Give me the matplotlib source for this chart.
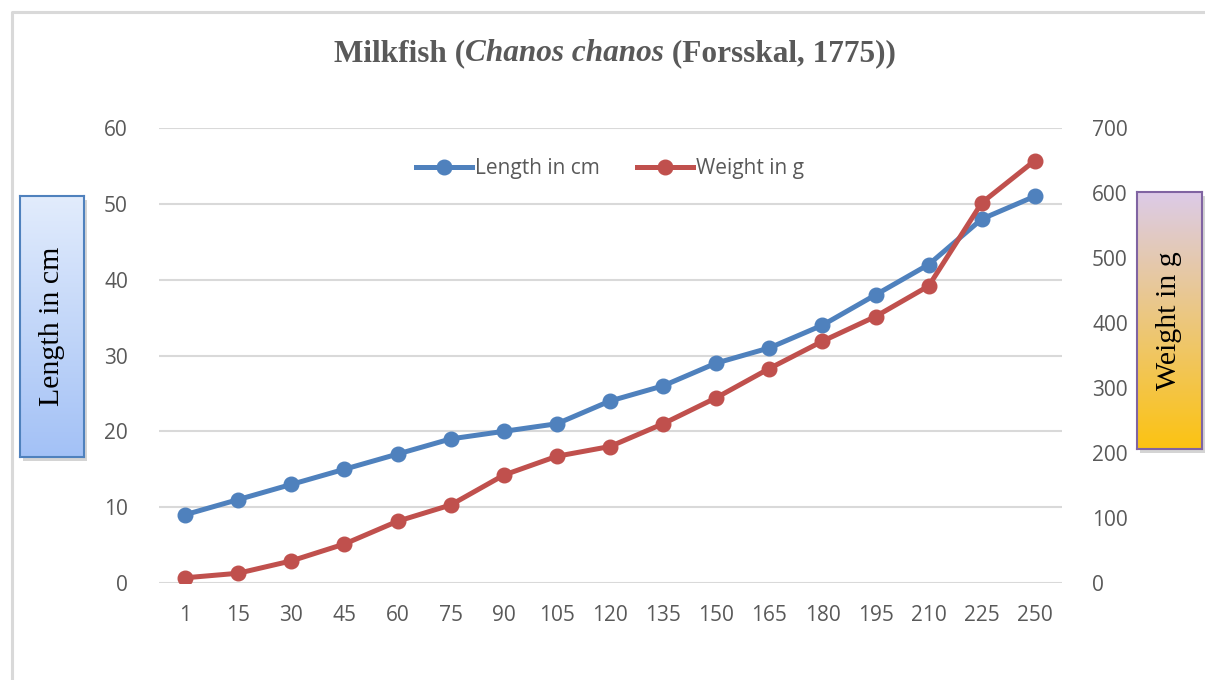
import numpy as np
import matplotlib
matplotlib.use("Agg")
from matplotlib import pyplot as plt
from matplotlib.lines import Line2D

days = ["1", "15", "30", "45", "60", "75", "90", "105", "120", "135",
        "150", "165", "180", "195", "210", "225", "250"]
length_cm = [9, 11, 13, 15, 17, 19, 20, 21, 24, 26, 29, 31, 34, 38, 42, 48, 51]
weight_g = [8, 15, 34, 60, 95, 120, 166, 195, 210, 245, 285, 330, 372, 410, 457, 585, 650]

blue = "#4f81bd"
red = "#c0504d"
grey = "#595959"
tick_font = "Open Sans"

fig = plt.figure(figsize=(12.05, 6.8), dpi=100)
W, H = 1205, 680

# outer chart border (top and left edges only show)
fig.lines.append(Line2D([12 / W, 12 / W, 1.0], [0.0, 1 - 12 / H, 1 - 12 / H], transform=fig.transFigure,
                        color="#d9d9d9", linewidth=2.2))

ax = fig.add_axes([158.5 / W, 1 - 583 / H, (1061.5 - 158.5) / W, (583 - 128) / H])
ax2 = ax.twinx()

x = np.arange(len(days))
l1, = ax.plot(x, length_cm, color=blue, lw=3.6, marker="o", ms=10.5, label="Length in cm", zorder=3)
l2, = ax2.plot(x, weight_g, color=red, lw=3.6, marker="o", ms=10.5, label="Weight in g", zorder=3)

ax.set_xlim(-0.5, len(days) - 0.5)
ax.set_ylim(0, 60)
ax.set_yticks(range(0, 61, 10))
ax2.set_ylim(0, 700)
ax2.set_yticks(range(0, 701, 100))
ax.set_xticks(x)
ax.set_xticklabels(days)

ax.grid(axis="y", color="#d9d9d9", linewidth=1.5)
ax.set_axisbelow(True)
for a in (ax, ax2):
    for s in a.spines.values():
        s.set_visible(False)
    a.tick_params(length=0, labelsize=15, labelcolor=grey)
    for t in a.get_xticklabels() + a.get_yticklabels():
        t.set_fontfamily(tick_font)
ax.tick_params(axis="y", pad=22)
ax2.tick_params(axis="y", pad=22)
ax.tick_params(axis="x", pad=16)

leg = ax.legend(handles=[l1, l2], loc="upper center", bbox_to_anchor=(0.5, 0.975), ncol=2,
                frameon=False, handlelength=2.7, columnspacing=1.8, handletextpad=0.15,
                prop={"family": tick_font, "size": 15})
for t in leg.get_texts():
    t.set_color(grey)

# title: bold with italic species name, centred as one line
title_kw = dict(fontsize=22.5, fontweight="bold", family="Liberation Serif", color=grey, va="baseline")
parts = [fig.text(0, 0, "Milkfish (", **title_kw),
         fig.text(0, 0, "Chanos chanos", style="italic", **title_kw),
         fig.text(0, 0, " (Forsskal, 1775))", **title_kw)]
fig.canvas.draw()
r = fig.canvas.get_renderer()
widths = [p.get_window_extent(r).width for p in parts]
xpos = 615 - sum(widths) / 2
for p, w in zip(parts, widths):
    p.set_position((xpos / W, 1 - 61 / H))
    xpos += w


def label_box(x0, y0, x1, y1, top, bottom, edge, text):
    rect = [x0 / W, 1 - y1 / H, (x1 - x0) / W, (y1 - y0) / H]
    sh = fig.add_axes([rect[0] + 3 / W, rect[1] - 4 / H, rect[2], rect[3]])
    sh.set_facecolor("#b8b8b8")
    sh.set_xticks([])
    sh.set_yticks([])
    for s in sh.spines.values():
        s.set_visible(False)
    sh.patch.set_alpha(0.6)
    bx = fig.add_axes(rect)
    c0 = np.array(matplotlib.colors.to_rgb(top))
    c1 = np.array(matplotlib.colors.to_rgb(bottom))
    f = np.linspace(0, 1, 256)[:, None]
    grad = (c0 * (1 - f) + c1 * f)[:, None, :]
    bx.imshow(grad, aspect="auto", extent=[0, 1, 0, 1])
    bx.set_xticks([])
    bx.set_yticks([])
    for s in bx.spines.values():
        s.set_color(edge)
        s.set_linewidth(1.5)
    bx.text(0.5, 0.5, text, rotation=90, ha="center", va="center", transform=bx.transAxes,
            fontsize=21.5, family="Liberation Serif", color="black")


label_box(20, 196, 84, 457, "#e2ecfc", "#a3c1f6", blue, "Length in cm")
label_box(1137, 192, 1202, 449, "#dccbe8", "#fcc312", "#8064a2", "Weight in g")

fig.savefig("out.png", dpi=100, facecolor="white")
